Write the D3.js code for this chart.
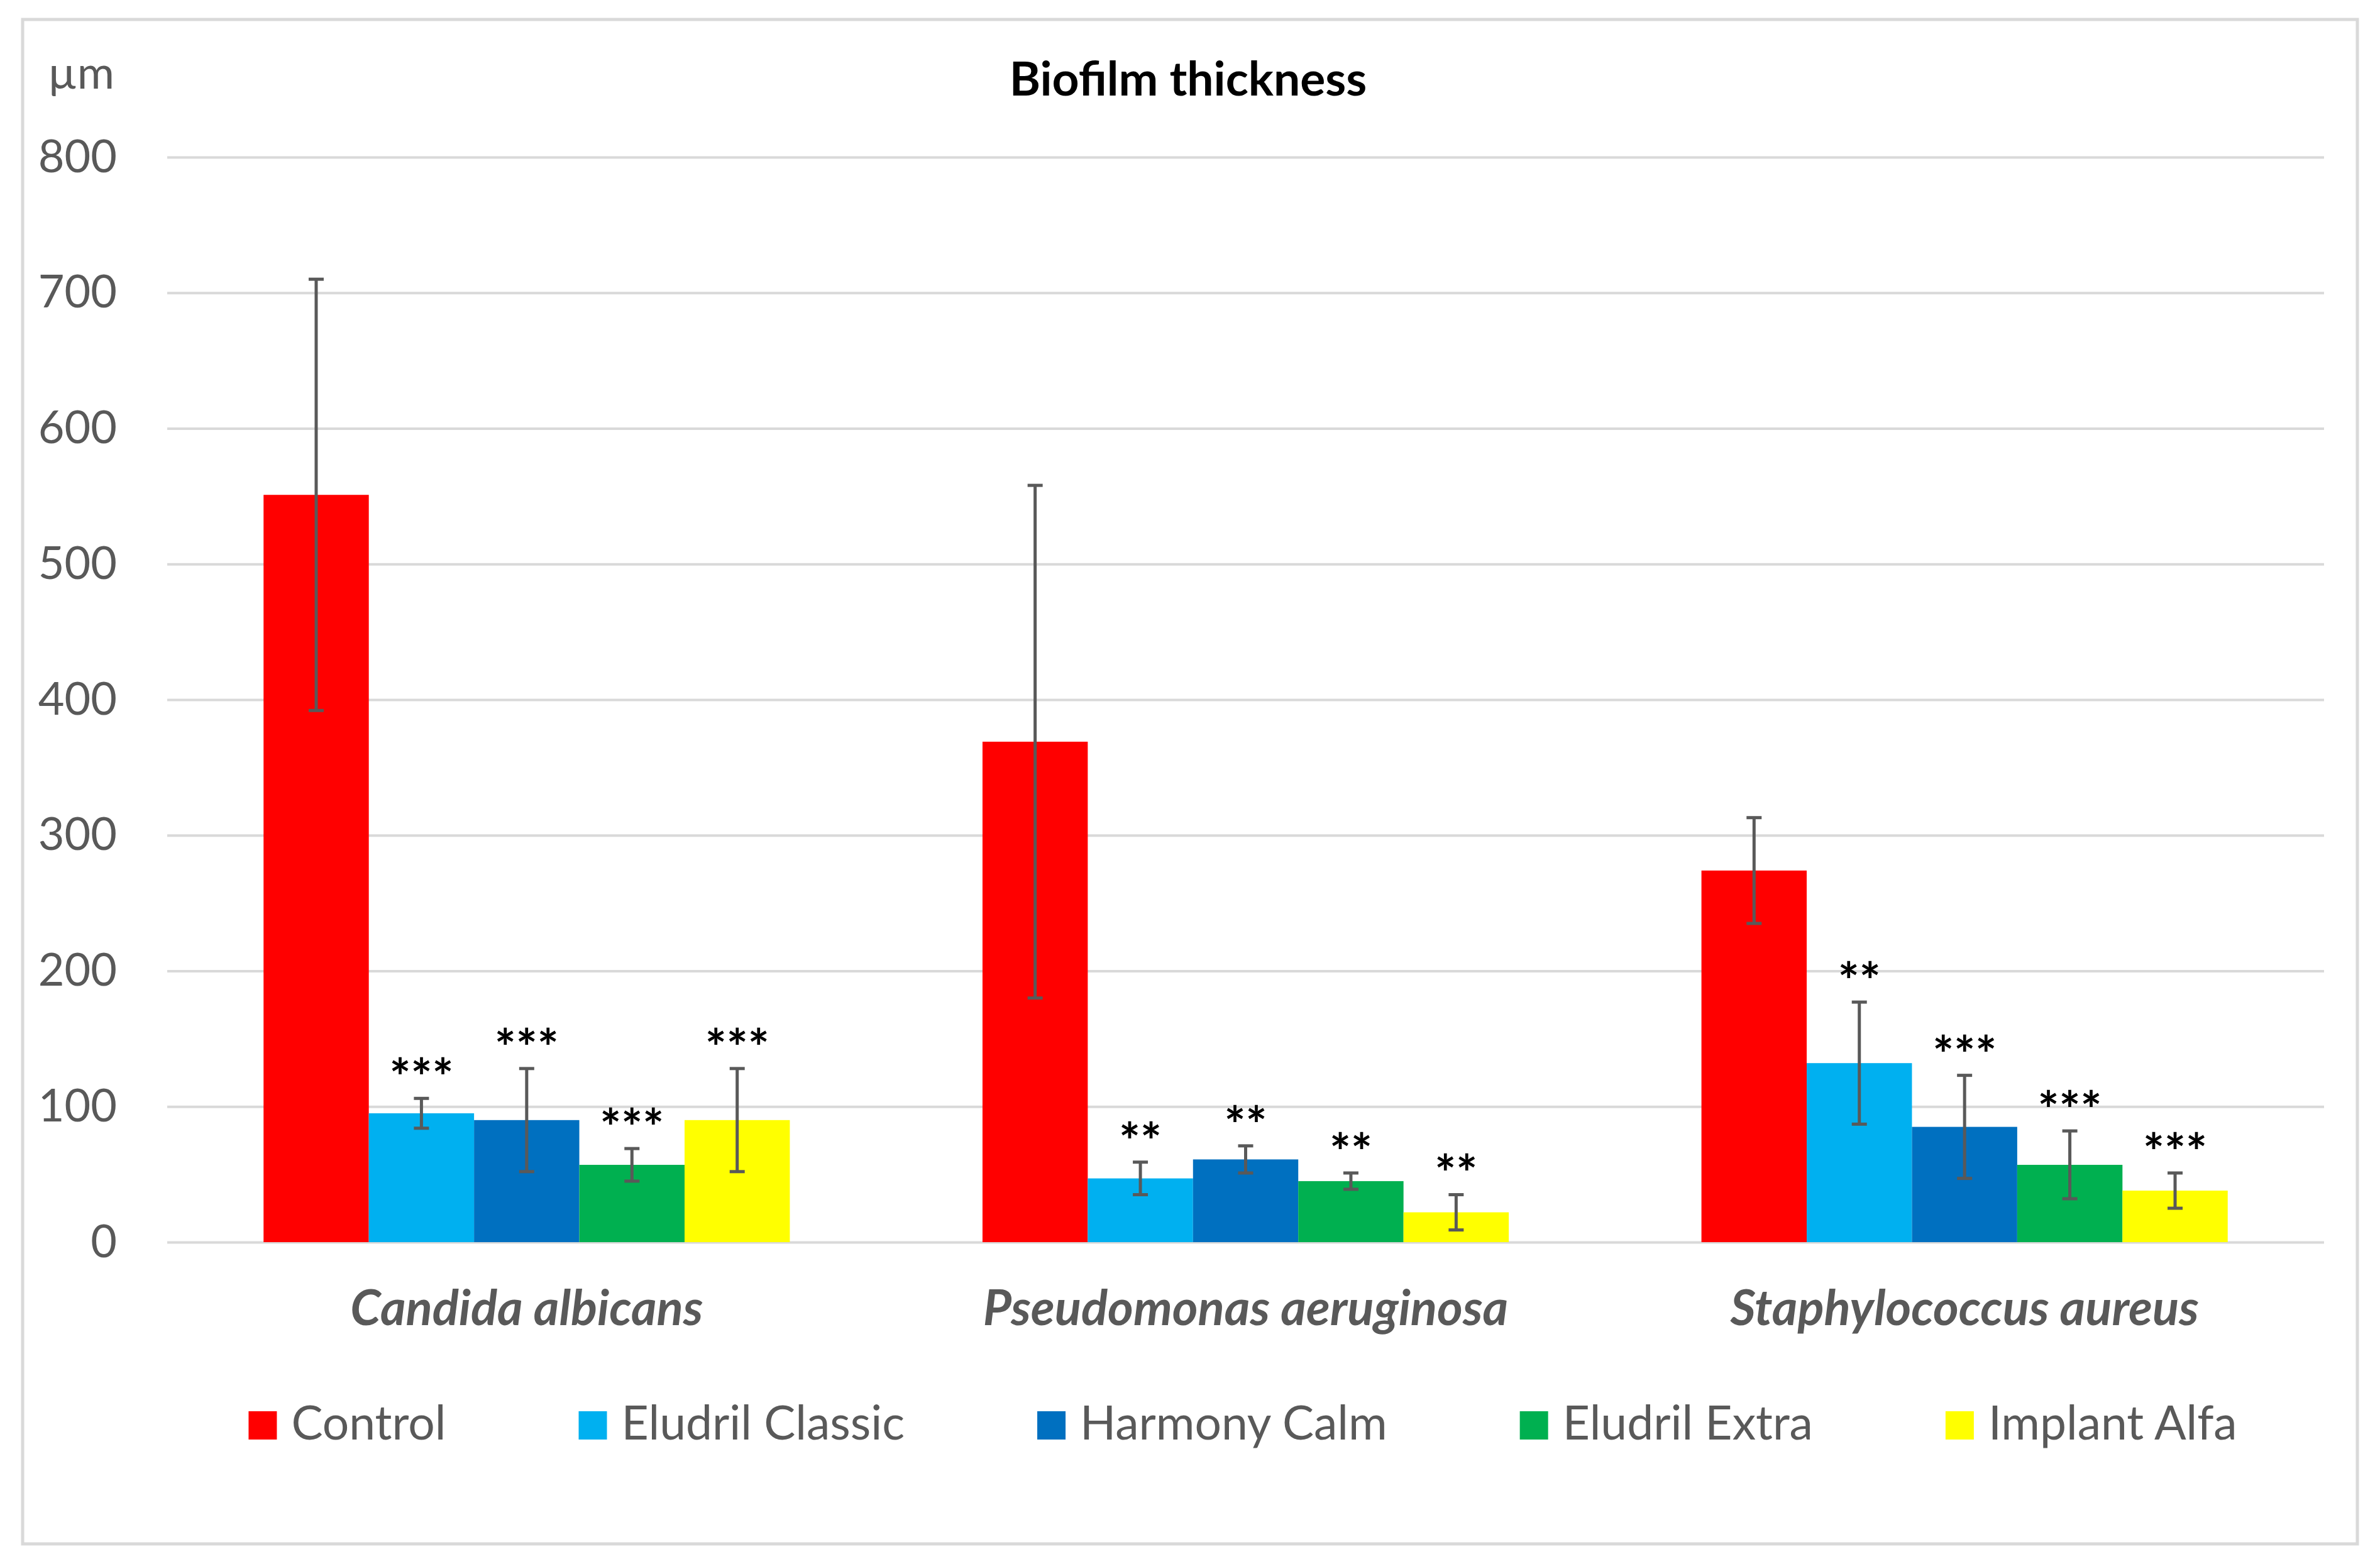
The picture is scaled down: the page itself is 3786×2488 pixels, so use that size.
<!DOCTYPE html>
<html>
<head>
<meta charset="utf-8">
<script src="https://cdn.jsdelivr.net/npm/d3@7"></script>
<style>
  body { margin: 0; background: #fff; }
  svg { display: block; }
  text { font-family: Lato, "Open Sans", sans-serif; }
</style>
</head>
<body>
<svg id="chart" width="3786" height="2488"></svg>
<script>
// values (µm)
var categories = ["Candida albicans", "Pseudomonas aeruginosa", "Staphylococcus aureus"];
var seriesNames = ["Control", "Eludril Classic", "Harmony Calm", "Eludril Extra", "Implant Alfa"];
var seriesColors = ["#FF0000", "#00B0F0", "#0070C0", "#00B050", "#FFFF00"];

var control = [551, 369, 274];
var controlErr = [159, 189, 39];
var eludrilClassic = [95, 47, 132];
var eludrilClassicErr = [11, 12, 45];
var harmonyCalm = [90, 61, 85];
var harmonyCalmErr = [38, 10, 38];
var eludrilExtra = [57, 45, 57];
var eludrilExtraErr = [12, 6, 25];
var implantAlfa = [90, 22, 38];
var implantAlfaErr = [38, 13, 13];

var controlStars = ["", "", ""];
var eludrilClassicStars = ["***", "**", "**"];
var harmonyCalmStars = ["***", "**", "***"];
var eludrilExtraStars = ["***", "**", "***"];
var implantAlfaStars = ["***", "**", "***"];

var yTicks = [0, 100, 200, 300, 400, 500, 600, 700, 800];

var means = [control, eludrilClassic, harmonyCalm, eludrilExtra, implantAlfa];
var errs = [controlErr, eludrilClassicErr, harmonyCalmErr, eludrilExtraErr, implantAlfaErr];
var stars = [controlStars, eludrilClassicStars, harmonyCalmStars, eludrilExtraStars, implantAlfaStars];

var rows = [];
categories.forEach(function (c, ci) {
    seriesNames.forEach(function (s, si) {
        rows.push({cat: c, series: s, si: si, value: means[si][ci], err: errs[si][ci], star: stars[si][ci]});
    });
});

var svg = d3.select('#chart'),
    textColor = '#595959',
    gridColor = '#d9d9d9',
    plotLeft = 266, plotRight = 3697, plotTop = 250, plotBottom = 1976;

svg.append('rect')
    .attr('x', 36).attr('y', 31)
    .attr('width', 3714).attr('height', 2425)
    .attr('fill', '#fff')
    .attr('stroke', gridColor)
    .attr('stroke-width', 5);

var x0 = d3.scaleBand()
    .domain(categories)
    .range([plotLeft, plotRight])
    .paddingInner(0.268)
    .paddingOuter(0.134);

var x1 = d3.scaleBand()
    .domain(seriesNames)
    .range([0, x0.bandwidth()]);

var y = d3.scaleLinear()
    .domain([0, 800])
    .range([plotBottom, plotTop]);

var color = d3.scaleOrdinal().domain(seriesNames).range(seriesColors);

// gridlines + tick labels
var yAxis = d3.axisLeft(y)
    .tickValues(yTicks)
    .tickSize(-(plotRight - plotLeft))
    .tickPadding(80);

var gy = svg.append('g')
    .attr('transform', 'translate(' + plotLeft + ',0)')
    .call(yAxis);
gy.select('.domain').remove();
gy.selectAll('.tick line')
    .attr('stroke', gridColor)
    .attr('stroke-width', 4);
gy.selectAll('.tick text')
    .attr('fill', textColor)
    .attr('font-size', 72)
    .attr('font-family', 'Lato, sans-serif');

svg.append('text')
    .attr('x', 76).attr('y', 141)
    .attr('fill', textColor)
    .attr('font-size', 72)
    .text('µm');

svg.append('text')
    .attr('x', 1890).attr('y', 152)
    .attr('text-anchor', 'middle')
    .attr('font-weight', 'bold')
    .attr('font-size', 75)
    .attr('fill', '#000')
    .text('Biofilm thickness');

// bars
var groups = svg.append('g').selectAll('g')
    .data(rows)
    .enter().append('g')
    .attr('transform', function (d) { return 'translate(' + (x0(d.cat) + x1(d.series)) + ',0)'; });

groups.append('rect')
    .attr('x', 0)
    .attr('y', function (d) { return y(d.value); })
    .attr('width', x1.bandwidth())
    .attr('height', function (d) { return y(0) - y(d.value); })
    .attr('fill', function (d) { return color(d.series); });

// error bars
var cx = x1.bandwidth() / 2, cap = 12;
groups.append('line')
    .attr('x1', cx).attr('x2', cx)
    .attr('y1', function (d) { return y(d.value + d.err); })
    .attr('y2', function (d) { return y(d.value - d.err); })
    .attr('stroke', textColor).attr('stroke-width', 5);
groups.append('line')
    .attr('x1', cx - cap).attr('x2', cx + cap)
    .attr('y1', function (d) { return y(d.value + d.err); })
    .attr('y2', function (d) { return y(d.value + d.err); })
    .attr('stroke', textColor).attr('stroke-width', 5);
groups.append('line')
    .attr('x1', cx - cap).attr('x2', cx + cap)
    .attr('y1', function (d) { return y(d.value - d.err); })
    .attr('y2', function (d) { return y(d.value - d.err); })
    .attr('stroke', textColor).attr('stroke-width', 5);

// significance stars
groups.append('text')
    .attr('x', cx)
    .attr('y', function (d) { return y(d.value + d.err) - 4; })
    .attr('text-anchor', 'middle')
    .attr('font-family', '"DejaVu Sans", sans-serif')
    .attr('font-weight', 'bold')
    .attr('font-size', 80)
    .attr('fill', '#000')
    .text(function (d) { return d.star; });

// category labels
svg.append('g').selectAll('text')
    .data(categories)
    .enter().append('text')
    .attr('x', function (d) { return x0(d) + x0.bandwidth() / 2; })
    .attr('y', 2108)
    .attr('text-anchor', 'middle')
    .attr('font-weight', 'bold')
    .attr('font-style', 'italic')
    .attr('font-size', 78)
    .attr('fill', textColor)
    .text(function (d) { return d; });

// legend
var legend = svg.append('g');
var items = legend.selectAll('g')
    .data(seriesNames)
    .enter().append('g');
items.append('rect')
    .attr('y', 2245)
    .attr('width', 45).attr('height', 45)
    .attr('fill', function (d) { return color(d); });
items.append('text')
    .attr('x', 68).attr('y', 2290)
    .attr('font-size', 75)
    .attr('fill', textColor)
    .text(function (d) { return d; });

var pos = 0;
items.each(function () {
    var g = d3.select(this);
    g.attr('transform', 'translate(' + pos + ',0)');
    pos += 68 + g.select('text').node().getComputedTextLength() + 211;
});
var legendWidth = pos - 211;
legend.attr('transform', 'translate(' + (1977 - legendWidth / 2) + ',0)');
</script>
</body>
</html>
